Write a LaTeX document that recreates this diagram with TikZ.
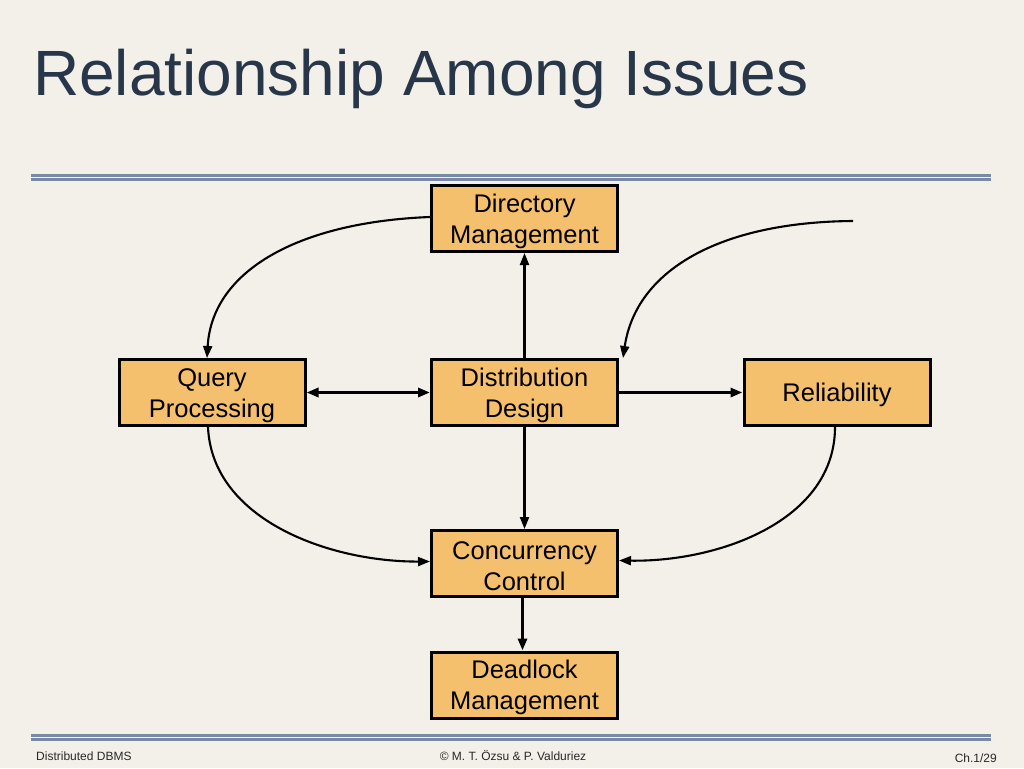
\documentclass[tikz,border=0pt]{standalone}
\usepackage{fontspec}
\setmainfont{Liberation Sans}
\usetikzlibrary{arrows.meta}
\definecolor{bg}{RGB}{243,240,234}
\definecolor{boxfill}{RGB}{245,192,110}
\definecolor{titlecol}{RGB}{40,54,74}
\definecolor{rulecol}{RGB}{120,138,165}
\definecolor{footcol}{RGB}{40,40,40}
\newcommand{\st}{\rule{0pt}{24pt}}
\tikzset{
  issue/.style={draw=black, line width=3pt, fill=boxfill, minimum width=186pt, minimum height=66pt,
    inner sep=0pt, align=center, font=\fontsize{25.5}{31}\selectfont},
  tip/.style={-{Triangle[length=12pt,width=9pt]}},
  tips/.style={{Triangle[length=12pt,width=9pt]}-{Triangle[length=12pt,width=9pt]}},
  thinline/.style={line width=2.1pt},
  thickline/.style={line width=3pt},
  rule/.style={draw=rulecol, line width=2.3pt},
  foot/.style={font=\fontsize{12}{14}\selectfont, text=footcol, inner sep=0pt}
}
\begin{document}
\begin{tikzpicture}[x=1pt,y=-1pt]
\useasboundingbox (0,0) rectangle (1024,768);
\fill[bg] (0,0) rectangle (1024,768);
% title
\node[anchor=base west, inner sep=0pt, text=titlecol, font=\fontsize{64}{70}\selectfont] (title) at (33,95) {Relationship Among Issues};
% rules
\draw[rule] (31,175.5) -- (991,175.5);
\draw[rule] (31,179.5) -- (991,179.5);
\draw[rule] (31,735.5) -- (991,735.5);
\draw[rule] (31,739.5) -- (991,739.5);
% boxes
\node[issue] (dm) at (524.5,218.5) {\st Directory\\Management};
\node[issue] (qp) at (212,392.5) {\st Query\\Processing};
\node[issue] (dd) at (524.5,392.5) {\st Distribution\\Design};
\node[issue] (rel) at (837,392.5) {\st Reliability};
\node[issue] (cc) at (524.5,563.5) {\st Concurrency\\Control};
\node[issue] (dl) at (524.5,685) {\st Deadlock\\Management};
% connectors
\coordinate (free) at (853,221);
\draw[thinline, tip] ([yshift=1.5pt]dm.west) .. controls (300,222) and (212,270) .. ([xshift=-5pt]qp.north);
\draw[thinline, tip] (free) .. controls (720,222) and (636,270) .. ([xshift=4pt]dd.north east);
\draw[thinline, tip] (dd.north) -- (dm.south);
\draw[thickline, tips] (qp.east) -- (dd.west);
\draw[thickline, tip] (dd.east) -- (rel.east -| rel.west);
\draw[thinline, tip] (dd.south) -- (cc.north);
\draw[thinline, tip] ([xshift=-4pt]qp.south) .. controls (212,520) and (330,562) .. ([yshift=2pt]cc.west);
\draw[thinline, tip] ([xshift=-2pt]rel.south) .. controls (835,520) and (720,562) .. ([yshift=3pt]cc.east);
\draw[thickline, tip] ([xshift=-2pt]cc.south) -- ([xshift=-2pt]dl.north);
% footer
\node[foot, anchor=base west] (f1) at (36,760) {Distributed DBMS};
\node[foot, anchor=base] (f2) at (513,760) {© M. T. Özsu \& P. Valduriez};
\node[foot, anchor=base east] (f3) at (997,762) {Ch.1/29};
\end{tikzpicture}
\end{document}
